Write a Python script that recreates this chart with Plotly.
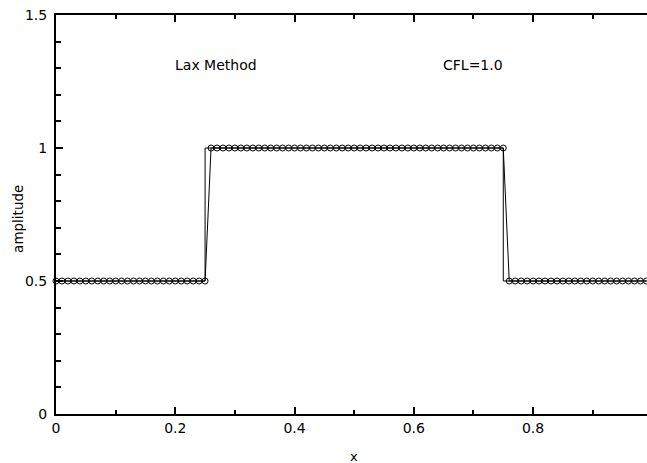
import plotly.graph_objects as go

# numerical solution sample points (dx = 0.01)
x_num = [0.00, 0.01, 0.02, 0.03, 0.04, 0.05, 0.06, 0.07, 0.08, 0.09,
         0.10, 0.11, 0.12, 0.13, 0.14, 0.15, 0.16, 0.17, 0.18, 0.19,
         0.20, 0.21, 0.22, 0.23, 0.24, 0.25, 0.26, 0.27, 0.28, 0.29,
         0.30, 0.31, 0.32, 0.33, 0.34, 0.35, 0.36, 0.37, 0.38, 0.39,
         0.40, 0.41, 0.42, 0.43, 0.44, 0.45, 0.46, 0.47, 0.48, 0.49,
         0.50, 0.51, 0.52, 0.53, 0.54, 0.55, 0.56, 0.57, 0.58, 0.59,
         0.60, 0.61, 0.62, 0.63, 0.64, 0.65, 0.66, 0.67, 0.68, 0.69,
         0.70, 0.71, 0.72, 0.73, 0.74, 0.75, 0.76, 0.77, 0.78, 0.79,
         0.80, 0.81, 0.82, 0.83, 0.84, 0.85, 0.86, 0.87, 0.88, 0.89,
         0.90, 0.91, 0.92, 0.93, 0.94, 0.95, 0.96, 0.97, 0.98, 0.99]
u_num = [0.5, 0.5, 0.5, 0.5, 0.5, 0.5, 0.5, 0.5, 0.5, 0.5,
         0.5, 0.5, 0.5, 0.5, 0.5, 0.5, 0.5, 0.5, 0.5, 0.5,
         0.5, 0.5, 0.5, 0.5, 0.5, 0.5, 1.0, 1.0, 1.0, 1.0,
         1.0, 1.0, 1.0, 1.0, 1.0, 1.0, 1.0, 1.0, 1.0, 1.0,
         1.0, 1.0, 1.0, 1.0, 1.0, 1.0, 1.0, 1.0, 1.0, 1.0,
         1.0, 1.0, 1.0, 1.0, 1.0, 1.0, 1.0, 1.0, 1.0, 1.0,
         1.0, 1.0, 1.0, 1.0, 1.0, 1.0, 1.0, 1.0, 1.0, 1.0,
         1.0, 1.0, 1.0, 1.0, 1.0, 1.0, 0.5, 0.5, 0.5, 0.5,
         0.5, 0.5, 0.5, 0.5, 0.5, 0.5, 0.5, 0.5, 0.5, 0.5,
         0.5, 0.5, 0.5, 0.5, 0.5, 0.5, 0.5, 0.5, 0.5, 0.5]

# exact solution (square wave)
x_exact = [0.0, 0.25, 0.25, 0.75, 0.75, 1.0]
u_exact = [0.5, 0.5, 1.0, 1.0, 0.5, 0.5]

x_ticks = [0, 0.2, 0.4, 0.6, 0.8]
x_tick_labels = ["0", "0.2", "0.4", "0.6", "0.8"]
y_ticks = [0, 0.5, 1, 1.5]
y_tick_labels = ["0", "0.5", "1", "1.5"]

FONT = "DejaVu Sans, Liberation Sans, sans-serif"

fig = go.Figure()
fig.add_trace(go.Scatter(x=x_exact, y=u_exact, mode="lines",
                         line=dict(color="black", width=1), showlegend=False))
fig.add_trace(go.Scatter(x=x_num, y=u_num, mode="lines+markers",
                         line=dict(color="black", width=1),
                         marker=dict(symbol="circle-open", size=6, color="black",
                                     line=dict(width=1, color="black")),
                         showlegend=False, cliponaxis=False))

fig.add_annotation(x=0.2687, y=1.312, text="Lax Method", showarrow=False,
                   font=dict(family=FONT, size=14, color="black"))
fig.add_annotation(x=0.6985, y=1.312, text="CFL=1.0", showarrow=False,
                   font=dict(family=FONT, size=14, color="black"))
# axis titles
fig.add_annotation(xref="paper", yref="paper", x=0.504, y=-0.106, yanchor="middle",
                   text="x", showarrow=False,
                   font=dict(family=FONT, size=13, color="black"))
fig.add_annotation(xref="paper", yref="paper", x=-0.0643, y=0.489, xanchor="center",
                   yanchor="middle", text="amplitude", textangle=-90, showarrow=False,
                   font=dict(family=FONT, size=13.5, color="black"))

fig.update_layout(
    width=647, height=463,
    margin=dict(l=56, r=0, t=15, b=49, autoexpand=False),
    plot_bgcolor="white", paper_bgcolor="white",
    font=dict(family=FONT, size=14, color="black"),
    xaxis=dict(range=[0, 0.991], tickvals=x_ticks, ticktext=x_tick_labels,
               ticks="inside", ticklen=7, tickwidth=1.5, tickcolor="black",
               showline=True, linecolor="black", linewidth=2, mirror="ticks",
               showgrid=False, zeroline=False, automargin=False,
               ticklabeloverflow="allow",
               minor=dict(ticks="inside", ticklen=4, dtick=0.1, tick0=0,
                          tickcolor="black", tickwidth=1.5, showgrid=False),
               tickfont=dict(size=14)),
    yaxis=dict(range=[0, 1.5], tickvals=y_ticks, ticktext=y_tick_labels,
               ticks="inside", ticklen=7, tickwidth=1.5, tickcolor="black",
               showline=True, linecolor="black", linewidth=2,
               showgrid=False, zeroline=False, automargin=False,
               ticklabelstandoff=4, ticklabeloverflow="allow",
               minor=dict(ticks="inside", ticklen=5, dtick=0.1, tick0=0,
                          tickcolor="black", tickwidth=1.5, showgrid=False),
               tickfont=dict(size=14)),
)

fig.write_html(
    "out.html",
    config={"displayModeBar": False},
    post_script="document.body.style.margin='0';document.body.style.overflow='hidden';",
)
